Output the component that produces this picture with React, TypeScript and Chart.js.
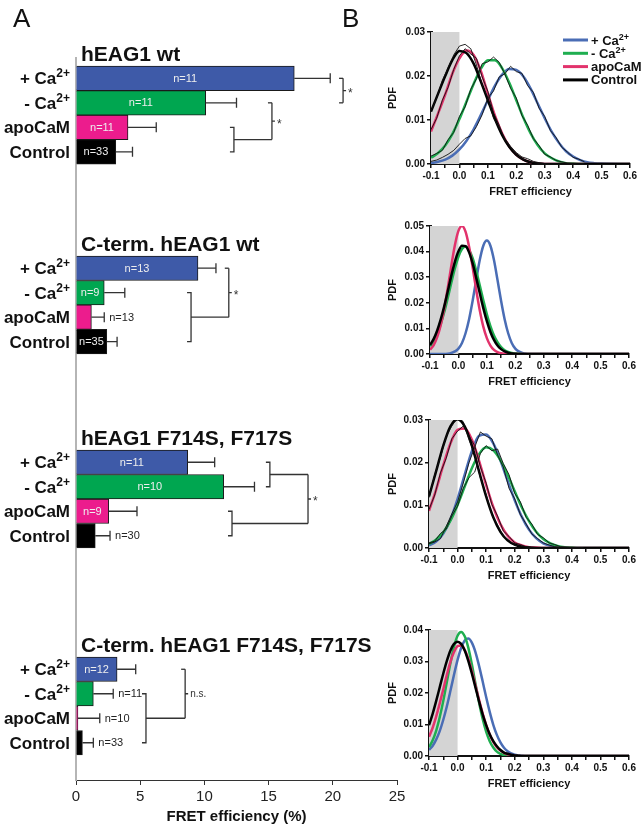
import React, { useEffect, useRef } from 'react';
import { Chart, registerables } from 'chart.js';

Chart.register(...registerables);

const FONT = '"Liberation Sans", Arial, Helvetica, sans-serif';
const W = 642;
const H = 828;

// ---------------- Panel A data ----------------
const constructNames = ['hEAG1 wt', 'C-term. hEAG1 wt', 'hEAG1 F714S, F717S', 'C-term. hEAG1 F714S, F717S'];
const conditionNames = ['+ Ca', '- Ca', 'apoCaM', 'Control'];
const conditionSups = ['2+', '2+', '', ''];

const plusCaMean = [17.0, 9.5, 8.7, 3.2];
const plusCaSem = [2.8, 1.4, 2.1, 1.45];
const minusCaMean = [10.1, 2.2, 11.5, 1.35];
const minusCaSem = [2.4, 1.6, 2.4, 1.55];
const apoCaMMean = [4.05, 1.2, 2.55, 0.15];
const apoCaMSem = [2.2, 1.0, 2.2, 1.7];
const controlMean = [3.1, 2.4, 1.5, 0.5];
const controlSem = [1.3, 0.8, 1.15, 0.85];

const plusCaN = [11, 13, 11, 12];
const minusCaN = [11, 9, 10, 11];
const apoCaMN = [11, 13, 9, 10];
const controlN = [33, 35, 30, 33];

const fretTicks = [0, 5, 10, 15, 20, 25];

// significance comparisons (rows = condition indices, x in FRET % units)
const sigTests = [
  { group: 0, a: [0], b: [1], x: 20.8, label: '*' },
  { group: 0, a: [1], b: [2, 3], bx: 12.3, x: 15.26, label: '*' },
  { group: 1, a: [0], b: [1, 3], bx: 8.96, x: 11.9, label: '*' },
  { group: 2, a: [0, 1], ax: 15.1, b: [2, 3], bx: 12.15, x: 18.07, label: '*' },
  { group: 3, a: [0], b: [1, 3], bx: 5.45, x: 8.5, label: 'n.s.' },
];

// ---------------- Panel B data ----------------
const pdfXWide = [-0.1, -0.075, -0.05, -0.025, 0, 0.025, 0.05, 0.075, 0.1, 0.125, 0.15, 0.175, 0.2, 0.225, 0.25, 0.275, 0.3, 0.325, 0.35, 0.375, 0.4, 0.425, 0.45, 0.475, 0.5, 0.6];
const pdfXNarrow = [-0.1, -0.0875, -0.075, -0.0625, -0.05, -0.0375, -0.025, -0.0125, 0, 0.0125, 0.025, 0.0375, 0.05, 0.0625, 0.075, 0.0875, 0.1, 0.1125, 0.125, 0.1375, 0.15, 0.1625, 0.175, 0.1875, 0.2, 0.2125, 0.225, 0.2375, 0.25, 0.6];
const pdfXRaw = [-0.1, -0.08, -0.06, -0.04, -0.02, 0, 0.02, 0.04, 0.06, 0.08, 0.1, 0.12, 0.14, 0.16, 0.18, 0.2, 0.22, 0.24, 0.26, 0.28, 0.3, 0.32, 0.34, 0.36, 0.38, 0.4, 0.42, 0.44];

// hEAG1 wt (fits)
const wtPlusCaPdf = [0.0002, 0.0005, 0.0010, 0.0019, 0.0033, 0.0053, 0.0079, 0.0111, 0.0145, 0.0178, 0.0203, 0.0216, 0.0214, 0.0199, 0.0172, 0.0138, 0.0104, 0.0073, 0.0048, 0.0029, 0.0017, 0.0009, 0.0004, 0.0002, 0.0001, 0];
const wtMinusCaPdf = [0.0014, 0.0025, 0.0042, 0.0068, 0.0102, 0.0142, 0.0182, 0.0216, 0.0236, 0.0236, 0.0218, 0.0185, 0.0145, 0.0105, 0.0070, 0.0043, 0.0024, 0.0013, 0.0006, 0.0002, 0.0001, 0, 0, 0, 0, 0];
const wtApoCaMPdf = [0.0074, 0.0115, 0.0158, 0.0205, 0.0240, 0.0258, 0.0248, 0.0212, 0.0160, 0.0110, 0.0070, 0.0040, 0.0021, 0.0010, 0.0004, 0.0001, 0, 0, 0, 0, 0, 0, 0, 0, 0, 0];
const wtControlPdf = [0.0119, 0.0160, 0.0200, 0.0236, 0.0257, 0.0252, 0.0228, 0.0188, 0.0145, 0.0102, 0.0066, 0.0039, 0.0021, 0.0010, 0.0004, 0.0001, 0, 0, 0, 0, 0, 0, 0, 0, 0, 0];
// hEAG1 wt (histograms)
const rawWtPlusCa = [0.0006, 0.0009, 0.0015, 0.0022, 0.0031, 0.0045, 0.0058, 0.0064, 0.0085, 0.0112, 0.0150, 0.0166, 0.0198, 0.0205, 0.0222, 0.0210, 0.0206, 0.0178, 0.0163, 0.0127, 0.0108, 0.0076, 0.0060, 0.0038, 0.0027, 0.0015, 0.0011, 0.0005];
const rawWtMinusCa = [0.0018, 0.0024, 0.0031, 0.0055, 0.0072, 0.0108, 0.0130, 0.0170, 0.0194, 0.0228, 0.0232, 0.0243, 0.0231, 0.0204, 0.0172, 0.0150, 0.0110, 0.0088, 0.0058, 0.0042, 0.0022, 0.0016, 0.0008, 0.0005, 0.0002, 0.0001, 0, 0];
const rawWtApoCaM = [0.0078, 0.0104, 0.0145, 0.0174, 0.0215, 0.0246, 0.0262, 0.0250, 0.0240, 0.0198, 0.0165, 0.0116, 0.0088, 0.0054, 0.0038, 0.0020, 0.0012, 0.0006, 0.0003, 0.0001, 0, 0, 0, 0, 0, 0, 0, 0];
const rawWtControl = [0.0121, 0.0150, 0.0190, 0.0218, 0.0248, 0.0268, 0.0272, 0.0262, 0.0225, 0.0180, 0.0150, 0.0104, 0.0082, 0.0058, 0.0040, 0.0026, 0.0016, 0.0012, 0.0006, 0.0003, 0.0001, 0, 0, 0, 0, 0, 0, 0];

// C-term. hEAG1 wt (fits)
const ctWtPlusCaPdf = [0, 0, 0, 0, 0, 0.0001, 0.0004, 0.0010, 0.0021, 0.0043, 0.0081, 0.0136, 0.0208, 0.0289, 0.0367, 0.0423, 0.0443, 0.0423, 0.0367, 0.0289, 0.0208, 0.0136, 0.0081, 0.0043, 0.0021, 0.0010, 0.0004, 0.0001, 0, 0];
const ctWtMinusCaPdf = [0.0030, 0.0049, 0.0077, 0.0116, 0.0163, 0.0219, 0.0278, 0.0334, 0.0380, 0.0410, 0.0420, 0.0407, 0.0374, 0.0325, 0.0268, 0.0210, 0.0155, 0.0109, 0.0072, 0.0046, 0.0027, 0.0015, 0.0008, 0.0004, 0.0002, 0.0001, 0, 0, 0, 0];
const ctWtApoCaMPdf = [0.0017, 0.0034, 0.0065, 0.0112, 0.0177, 0.0258, 0.0345, 0.0425, 0.0481, 0.0500, 0.0478, 0.0419, 0.0339, 0.0251, 0.0171, 0.0107, 0.0062, 0.0033, 0.0016, 0.0007, 0.0003, 0.0001, 0, 0, 0, 0, 0, 0, 0, 0];
const ctWtControlPdf = [0.0035, 0.0058, 0.0091, 0.0134, 0.0186, 0.0245, 0.0306, 0.0360, 0.0401, 0.0423, 0.0421, 0.0397, 0.0354, 0.0298, 0.0238, 0.0179, 0.0128, 0.0086, 0.0055, 0.0033, 0.0019, 0.0010, 0.0005, 0.0002, 0.0001, 0, 0, 0, 0, 0];

// hEAG1 F714S, F717S (fits)
const mutPlusCaPdf = [0.0006, 0.0015, 0.0034, 0.0067, 0.0115, 0.0172, 0.0227, 0.0263, 0.0266, 0.0245, 0.0205, 0.0158, 0.0112, 0.0073, 0.0043, 0.0023, 0.0011, 0.0005, 0.0002, 0.0001, 0, 0, 0, 0, 0, 0];
const mutMinusCaPdf = [0.0009, 0.0020, 0.0037, 0.0064, 0.0101, 0.0144, 0.0187, 0.0220, 0.0236, 0.0229, 0.0206, 0.0172, 0.0133, 0.0095, 0.0063, 0.0038, 0.0021, 0.0011, 0.0005, 0.0002, 0.0001, 0, 0, 0, 0, 0];
const mutApoCaMPdf = [0.0087, 0.0137, 0.0194, 0.0245, 0.0277, 0.0280, 0.0254, 0.0205, 0.0148, 0.0096, 0.0056, 0.0029, 0.0013, 0.0006, 0.0002, 0.0001, 0, 0, 0, 0, 0, 0, 0, 0, 0, 0];
const mutControlPdf = [0.0121, 0.0180, 0.0240, 0.0285, 0.0302, 0.0285, 0.0240, 0.0180, 0.0121, 0.0072, 0.0038, 0.0018, 0.0008, 0.0003, 0.0001, 0, 0, 0, 0, 0, 0, 0, 0, 0, 0, 0];
// hEAG1 F714S, F717S (histograms)
const rawMutPlusCa = [0.0010, 0.0014, 0.0022, 0.0050, 0.0080, 0.0108, 0.0152, 0.0200, 0.0236, 0.0272, 0.0262, 0.0256, 0.0218, 0.0190, 0.0140, 0.0115, 0.0078, 0.0056, 0.0033, 0.0022, 0.0012, 0.0007, 0.0003, 0.0001, 0, 0, 0, 0];
const rawMutMinusCa = [0.0012, 0.0016, 0.0034, 0.0044, 0.0075, 0.0098, 0.0140, 0.0165, 0.0178, 0.0222, 0.0240, 0.0228, 0.0232, 0.0198, 0.0172, 0.0128, 0.0108, 0.0072, 0.0056, 0.0032, 0.0024, 0.0012, 0.0008, 0.0003, 0.0002, 0.0001, 0, 0];
const rawMutApoCaM = [0.0090, 0.0124, 0.0176, 0.0210, 0.0256, 0.0274, 0.0286, 0.0262, 0.0240, 0.0190, 0.0152, 0.0102, 0.0075, 0.0040, 0.0027, 0.0012, 0.0008, 0.0003, 0.0001, 0, 0, 0, 0, 0, 0, 0, 0, 0];
const rawMutControl = [0.0118, 0.0172, 0.0212, 0.0262, 0.0286, 0.0306, 0.0296, 0.0254, 0.0220, 0.0164, 0.0125, 0.0078, 0.0054, 0.0028, 0.0018, 0.0007, 0.0004, 0.0002, 0.0001, 0, 0, 0, 0, 0, 0, 0, 0, 0];

// C-term. hEAG1 F714S, F717S (fits)
const ctMutPlusCaPdf = [0.0019, 0.0032, 0.0052, 0.0079, 0.0115, 0.0158, 0.0207, 0.0258, 0.0305, 0.0343, 0.0367, 0.0373, 0.0360, 0.0330, 0.0287, 0.0238, 0.0187, 0.0140, 0.0099, 0.0067, 0.0043, 0.0026, 0.0015, 0.0008, 0.0004, 0.0002, 0.0001, 0, 0, 0];
const ctMutMinusCaPdf = [0.0028, 0.0049, 0.0080, 0.0123, 0.0175, 0.0235, 0.0295, 0.0347, 0.0382, 0.0394, 0.0380, 0.0344, 0.0291, 0.0230, 0.0171, 0.0119, 0.0077, 0.0047, 0.0027, 0.0014, 0.0007, 0.0003, 0.0001, 0, 0, 0, 0, 0, 0, 0];
const ctMutApoCaMPdf = [0.0061, 0.0089, 0.0125, 0.0167, 0.0212, 0.0258, 0.0299, 0.0330, 0.0349, 0.0351, 0.0337, 0.0309, 0.0270, 0.0225, 0.0179, 0.0136, 0.0099, 0.0068, 0.0045, 0.0028, 0.0017, 0.0010, 0.0005, 0.0003, 0.0001, 0, 0, 0, 0, 0];
const ctMutControlPdf = [0.0098, 0.0133, 0.0174, 0.0218, 0.0262, 0.0302, 0.0335, 0.0356, 0.0363, 0.0356, 0.0335, 0.0302, 0.0262, 0.0218, 0.0174, 0.0133, 0.0098, 0.0069, 0.0047, 0.0031, 0.0019, 0.0011, 0.0007, 0.0004, 0.0002, 0.0001, 0, 0, 0, 0];

const pdfShadeFrom = -0.1;
const pdfShadeTo = 0.0;

// ---------------- styles / layout ----------------
const barColors = ['#3e5aa8', '#00a650', '#ec1c8d', '#000000'];
const curveColors = { plus: '#4a6db5', minus: '#1fae50', apo: '#e2336c', ctrl: '#000000' };

const A_LEFT = 76;
const A_RIGHT = 397;
const A_TOP = 58;
const A_BOTTOM = 780;
const ROWS_TOTAL = 29.47;
const GROUP_TOP_ROW = [0.33, 8.08, 16.0, 24.45];

const meansByCond = [plusCaMean, minusCaMean, apoCaMMean, controlMean];
const semsByCond = [plusCaSem, minusCaSem, apoCaMSem, controlSem];
const nsByCond = [plusCaN, minusCaN, apoCaMN, controlN];

const rowOf = (g: number, c: number) => GROUP_TOP_ROW[g] + c + 0.5;

function drawSupText(
  ctx: CanvasRenderingContext2D,
  base: string,
  sup: string,
  x: number,
  baseline: number,
  align: 'left' | 'right',
  size: number,
  supSize: number,
  raise: number
) {
  ctx.save();
  ctx.textAlign = 'left';
  ctx.textBaseline = 'alphabetic';
  ctx.font = `bold ${size}px ${FONT}`;
  const bw = ctx.measureText(base).width;
  ctx.font = `bold ${supSize}px ${FONT}`;
  const sw = sup ? ctx.measureText(sup).width : 0;
  const x0 = align === 'right' ? x - bw - sw : x;
  ctx.font = `bold ${size}px ${FONT}`;
  ctx.fillText(base, x0, baseline);
  if (sup) {
    ctx.font = `bold ${supSize}px ${FONT}`;
    ctx.fillText(sup, x0 + bw, baseline - raise);
  }
  ctx.restore();
}

function PanelA() {
  const ref = useRef<HTMLCanvasElement>(null);
  useEffect(() => {
    const canvas = ref.current;
    if (!canvas) return;
    const datasets = conditionNames.map((name, c) => ({
      label: name,
      data: meansByCond[c].map((v, g) => ({ x: v, y: rowOf(g, c) })),
      backgroundColor: barColors[c],
      borderColor: '#1a1a1a',
      borderWidth: 1,
      grouped: false,
      barPercentage: 1,
      categoryPercentage: 1,
    }));

    const annot = {
      id: 'annotA',
      afterDatasetsDraw(chart: any) {
        const { ctx } = chart;
        const xs = chart.scales.x;
        const ys = chart.scales.y;
        const px = (v: number) => xs.getPixelForValue(v);
        const py = (g: number, c: number) => ys.getPixelForValue(rowOf(g, c));
        ctx.save();

        ctx.fillStyle = '#111';
        ctx.textAlign = 'left';
        ctx.textBaseline = 'alphabetic';
        ctx.font = `26px ${FONT}`;
        ctx.fillText('A', 13, 27);
        ctx.fillText('B', 342, 27);

        ctx.font = `bold 21px ${FONT}`;
        constructNames.forEach((t, g) => {
          const yc = ys.getPixelForValue(GROUP_TOP_ROW[g] - 0.5);
          ctx.fillText(t, 81, yc + 7.5);
        });

        ctx.fillStyle = '#111';
        for (let g = 0; g < constructNames.length; g++) {
          for (let c = 0; c < conditionNames.length; c++) {
            drawSupText(ctx, conditionNames[c], conditionSups[c], 70, py(g, c) + 6, 'right', 17, 12, 7);
          }
        }

        for (let c = 0; c < conditionNames.length; c++) {
          for (let g = 0; g < constructNames.length; g++) {
            const m = meansByCond[c][g];
            const s = semsByCond[c][g];
            const yc = py(g, c);
            const x0 = px(m);
            const x1 = px(m + s);
            ctx.strokeStyle = '#333';
            ctx.lineWidth = 1.3;
            ctx.beginPath();
            ctx.moveTo(x0, yc);
            ctx.lineTo(x1, yc);
            ctx.moveTo(x1, yc - 5);
            ctx.lineTo(x1, yc + 5);
            ctx.stroke();

            const txt = `n=${nsByCond[c][g]}`;
            ctx.font = `11px ${FONT}`;
            const tw = ctx.measureText(txt).width;
            const barW = x0 - px(0);
            ctx.textBaseline = 'middle';
            if (barW >= tw + 4) {
              ctx.fillStyle = '#eeeeee';
              ctx.textAlign = 'center';
              ctx.fillText(txt, (px(0) + x0) / 2, yc + 0.5);
            } else {
              ctx.fillStyle = '#222';
              ctx.textAlign = 'left';
              ctx.fillText(txt, x1 + 5, yc + 0.5);
            }
          }
        }

        ctx.strokeStyle = '#333';
        ctx.lineWidth = 1.3;
        sigTests.forEach((t: any) => {
          const g = t.group;
          const X = px(t.x);
          const end = (rows: number[], bx?: number) => {
            if (rows.length === 1) {
              const ye = py(g, rows[0]);
              ctx.beginPath();
              ctx.moveTo(X - 4, ye);
              ctx.lineTo(X, ye);
              ctx.stroke();
              return ye;
            }
            const y1 = py(g, rows[0]);
            const y2 = py(g, rows[1]);
            const xb = px(bx as number);
            ctx.beginPath();
            ctx.moveTo(xb - 4, y1);
            ctx.lineTo(xb, y1);
            ctx.lineTo(xb, y2);
            ctx.lineTo(xb - 4, y2);
            ctx.stroke();
            const ym = (y1 + y2) / 2;
            ctx.beginPath();
            ctx.moveTo(xb, ym);
            ctx.lineTo(X, ym);
            ctx.stroke();
            return ym;
          };
          const ya = end(t.a, t.ax);
          const yb = end(t.b, t.bx);
          ctx.beginPath();
          ctx.moveTo(X, ya);
          ctx.lineTo(X, yb);
          const ymid = (ya + yb) / 2;
          ctx.moveTo(X, ymid);
          ctx.lineTo(X + 3, ymid);
          ctx.stroke();
          ctx.fillStyle = '#333';
          ctx.textAlign = 'left';
          ctx.textBaseline = 'alphabetic';
          if (t.label === '*') {
            ctx.font = `12px ${FONT}`;
            ctx.fillText('*', X + 5, ymid + 6.5);
          } else {
            ctx.font = `10px ${FONT}`;
            ctx.fillText(t.label, X + 5, ymid + 3);
          }
        });
        ctx.restore();
      },
    };

    const chart = new Chart(canvas, {
      type: 'bar',
      data: { datasets: datasets as any },
      options: {
        indexAxis: 'y',
        animation: false,
        responsive: false,
        events: [],
        layout: { padding: { left: A_LEFT, right: W - A_RIGHT, top: A_TOP, bottom: 0 } },
        plugins: { legend: { display: false }, tooltip: { enabled: false } },
        scales: {
          x: {
            type: 'linear',
            position: 'bottom',
            offset: false,
            min: fretTicks[0],
            max: fretTicks[fretTicks.length - 1],
            afterFit: (s: any) => { s.height = H - A_BOTTOM; },
            afterBuildTicks: (s: any) => { s.ticks = fretTicks.map((v) => ({ value: v })); },
            ticks: { color: '#222', font: { family: FONT, size: 15 }, padding: 3, maxRotation: 0, autoSkip: false },
            grid: { display: true, offset: false, drawOnChartArea: false, drawTicks: true, tickLength: 5, color: '#333', lineWidth: 1 },
            border: { display: true, color: '#333', width: 1 },
            title: {
              display: true,
              text: 'FRET efficiency (%)',
              color: '#111',
              font: { family: FONT, size: 15, weight: 'bold' },
              padding: { top: 0, bottom: 2 },
            },
          },
          y: {
            type: 'linear',
            position: 'left',
            offset: false,
            reverse: true,
            min: 0,
            max: ROWS_TOTAL,
            afterFit: (s: any) => { s.width = 0; },
            ticks: { display: false, count: 2 },
            grid: { display: false, offset: false },
            border: { display: true, color: '#b5b5b5', width: 2 },
          },
        },
      } as any,
      plugins: [annot],
    });
    return () => chart.destroy();
  }, []);
  return <canvas ref={ref} width={W} height={H} style={{ position: 'absolute', left: 0, top: 0, width: W, height: H }} />;
}

type PdfSpec = {
  xs: number[];
  yMax: number;
  plus: number[];
  minus: number[];
  apo: number[];
  ctrl: number[];
  raw: number[][];
  legend: boolean;
  box: { left: number; right: number; top: number; bottom: number };
};

const pdfPanels: PdfSpec[] = [
  { xs: pdfXWide, yMax: 0.03, plus: wtPlusCaPdf, minus: wtMinusCaPdf, apo: wtApoCaMPdf, ctrl: wtControlPdf, raw: [rawWtPlusCa, rawWtMinusCa, rawWtApoCaM, rawWtControl], legend: true, box: { left: 431, right: 630, top: 32, bottom: 164 } },
  { xs: pdfXNarrow, yMax: 0.05, plus: ctWtPlusCaPdf, minus: ctWtMinusCaPdf, apo: ctWtApoCaMPdf, ctrl: ctWtControlPdf, raw: [], legend: false, box: { left: 430, right: 629, top: 226, bottom: 354 } },
  { xs: pdfXWide, yMax: 0.03, plus: mutPlusCaPdf, minus: mutMinusCaPdf, apo: mutApoCaMPdf, ctrl: mutControlPdf, raw: [rawMutPlusCa, rawMutMinusCa, rawMutApoCaM, rawMutControl], legend: false, box: { left: 429, right: 629, top: 420, bottom: 548 } },
  { xs: pdfXNarrow, yMax: 0.04, plus: ctMutPlusCaPdf, minus: ctMutMinusCaPdf, apo: ctMutApoCaMPdf, ctrl: ctMutControlPdf, raw: [], legend: false, box: { left: 429, right: 629, top: 630, bottom: 756 } },
];

const B_CANVAS_LEFT = 370;
const B_PAD_TOP = 12;
const B_XAXIS_H = 40;

function PdfChart({ spec }: { spec: PdfSpec }) {
  const ref = useRef<HTMLCanvasElement>(null);
  const cTop = spec.box.top - B_PAD_TOP;
  const cH = spec.box.bottom - spec.box.top + B_PAD_TOP + B_XAXIS_H;
  const cW = W - B_CANVAS_LEFT;
  useEffect(() => {
    const canvas = ref.current;
    if (!canvas) return;
    const mk = (xs: number[], arr: number[]) => xs.map((x, i) => ({ x, y: arr[i] }));
    const rawSets = spec.raw.map((arr, i) => ({
      label: `hist${i}`,
      data: mk(pdfXRaw, arr),
      borderColor: '#111',
      backgroundColor: '#111',
      borderWidth: 0.9,
      pointRadius: 0,
      fill: false,
      tension: 0,
    }));
    const series = [
      { label: 'Control', data: mk(spec.xs, spec.ctrl), color: curveColors.ctrl },
      { label: 'apoCaM', data: mk(spec.xs, spec.apo), color: curveColors.apo },
      { label: '- Ca2+', data: mk(spec.xs, spec.minus), color: curveColors.minus },
      { label: '+ Ca2+', data: mk(spec.xs, spec.plus), color: curveColors.plus },
    ];
    const fitSets = series.map((s) => ({
      label: s.label,
      data: s.data,
      borderColor: s.color,
      backgroundColor: s.color,
      borderWidth: 2.5,
      pointRadius: 0,
      fill: false,
      cubicInterpolationMode: 'monotone',
    }));
    const shade = {
      id: 'shade',
      beforeDatasetsDraw(chart: any) {
        const { ctx, chartArea } = chart;
        const xs = chart.scales.x;
        const x0 = xs.getPixelForValue(pdfShadeFrom);
        const x1 = xs.getPixelForValue(pdfShadeTo);
        ctx.save();
        ctx.fillStyle = '#d4d4d4';
        ctx.fillRect(x0, chartArea.top, x1 - x0, chartArea.bottom - chartArea.top);
        ctx.restore();
      },
    };
    const legendItems = [
      { base: '+ Ca', sup: '2+', color: curveColors.plus },
      { base: '- Ca', sup: '2+', color: curveColors.minus },
      { base: 'apoCaM', sup: '', color: curveColors.apo },
      { base: 'Control', sup: '', color: curveColors.ctrl },
    ];
    const legendPlugin = {
      id: 'pdfLegend',
      afterDraw(chart: any) {
        if (!spec.legend) return;
        const { ctx, chartArea } = chart;
        ctx.save();
        legendItems.forEach((it, i) => {
          const y = chartArea.top + 8 + i * 13.3;
          ctx.strokeStyle = it.color;
          ctx.lineWidth = 3;
          ctx.beginPath();
          ctx.moveTo(chartArea.right - 67, y);
          ctx.lineTo(chartArea.right - 42, y);
          ctx.stroke();
          ctx.fillStyle = '#111';
          drawSupText(ctx, it.base, it.sup, chartArea.right - 39, y + 4.5, 'left', 13, 9, 5);
        });
        ctx.restore();
      },
    };
    const tickFont = { family: FONT, size: 10, weight: 'bold' as const };
    const chart = new Chart(canvas, {
      type: 'line',
      data: { datasets: [...rawSets, ...fitSets] as any },
      options: {
        animation: false,
        responsive: false,
        events: [],
        layout: { padding: { left: 0, right: W - spec.box.right, top: B_PAD_TOP, bottom: 0 } },
        plugins: { legend: { display: false }, tooltip: { enabled: false } },
        scales: {
          x: {
            type: 'linear',
            min: -0.1,
            max: 0.6,
            afterFit: (s: any) => { s.height = B_XAXIS_H; },
            ticks: {
              stepSize: 0.05,
              autoSkip: false,
              maxRotation: 0,
              padding: 2,
              color: '#111',
              font: tickFont,
              callback: (v: any) => {
                const k = Math.round(Number(v) * 100);
                return k % 10 === 0 ? (k / 100).toFixed(1) : '';
              },
            },
            grid: { display: true, drawOnChartArea: false, drawTicks: true, tickLength: 4, color: '#111', lineWidth: 1.5 },
            border: { display: true, color: '#111', width: 2 },
            title: {
              display: true,
              text: 'FRET efficiency',
              color: '#111',
              font: { family: FONT, size: 11, weight: 'bold' },
              padding: { top: 0, bottom: 5 },
            },
          },
          y: {
            type: 'linear',
            min: 0,
            max: spec.yMax,
            afterFit: (s: any) => { s.width = spec.box.left - B_CANVAS_LEFT; },
            ticks: {
              stepSize: 0.01,
              padding: 2,
              color: '#111',
              font: tickFont,
              callback: (v: any) => Number(v).toFixed(2),
            },
            grid: { display: true, drawOnChartArea: false, drawTicks: true, tickLength: 4, color: '#111', lineWidth: 1.5 },
            border: { display: true, color: '#111', width: 3 },
            title: {
              display: true,
              text: 'PDF',
              color: '#111',
              font: { family: FONT, size: 11, weight: 'bold' },
              padding: { top: 16, bottom: 0 },
            },
          },
        },
      } as any,
      plugins: [shade, legendPlugin],
    });
    return () => chart.destroy();
  }, []);
  return (
    <canvas
      ref={ref}
      width={cW}
      height={cH}
      style={{ position: 'absolute', left: B_CANVAS_LEFT, top: cTop, width: cW, height: cH }}
    />
  );
}

export default function App() {
  return (
    <div style={{ position: 'fixed', left: 0, top: 0, width: W, height: H, background: '#ffffff', overflow: 'hidden' }}>
      <PanelA />
      {pdfPanels.map((p, i) => (
        <PdfChart key={i} spec={p} />
      ))}
    </div>
  );
}
